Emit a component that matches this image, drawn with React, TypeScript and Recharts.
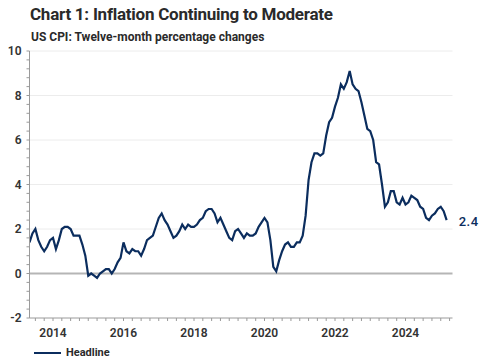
import React from "react";
import { LineChart, Line, XAxis, YAxis, ReferenceLine } from "recharts";

const startYear = 2013;
const startMonth = 5; // May 2013
const cpi2013 = [1.4, 1.8, 2.0, 1.5, 1.2, 1.0, 1.2, 1.5];
const cpi2014 = [1.6, 1.1, 1.5, 2.0, 2.1, 2.1, 2.0, 1.7, 1.7, 1.7, 1.3, 0.8];
const cpi2015 = [-0.1, 0.0, -0.1, -0.2, 0.0, 0.1, 0.2, 0.2, 0.0, 0.2, 0.5, 0.7];
const cpi2016 = [1.4, 1.0, 0.9, 1.1, 1.0, 1.0, 0.8, 1.1, 1.5, 1.6, 1.7, 2.1];
const cpi2017 = [2.5, 2.7, 2.4, 2.2, 1.9, 1.6, 1.7, 1.9, 2.2, 2.0, 2.2, 2.1];
const cpi2018 = [2.1, 2.2, 2.4, 2.5, 2.8, 2.9, 2.9, 2.7, 2.3, 2.5, 2.2, 1.9];
const cpi2019 = [1.6, 1.5, 1.9, 2.0, 1.8, 1.6, 1.8, 1.7, 1.7, 1.8, 2.1, 2.3];
const cpi2020 = [2.5, 2.3, 1.5, 0.3, 0.1, 0.6, 1.0, 1.3, 1.4, 1.2, 1.2, 1.4];
const cpi2021 = [1.4, 1.7, 2.6, 4.2, 5.0, 5.4, 5.4, 5.3, 5.4, 6.2, 6.8, 7.0];
const cpi2022 = [7.5, 7.9, 8.5, 8.3, 8.6, 9.1, 8.5, 8.3, 8.2, 7.7, 7.1, 6.5];
const cpi2023 = [6.4, 6.0, 5.0, 4.9, 4.0, 3.0, 3.2, 3.7, 3.7, 3.2, 3.1, 3.4];
const cpi2024 = [3.1, 3.2, 3.5, 3.4, 3.3, 3.0, 2.9, 2.5, 2.4, 2.6, 2.7, 2.9];
const cpi2025 = [3.0, 2.8, 2.4];

const headline = [
  ...cpi2013, ...cpi2014, ...cpi2015, ...cpi2016, ...cpi2017, ...cpi2018,
  ...cpi2019, ...cpi2020, ...cpi2021, ...cpi2022, ...cpi2023, ...cpi2024, ...cpi2025,
];

const yLabelValues = [-2, 0, 2, 4, 6, 8, 10];
const yMinorTicks = Array.from({ length: 31 }, (_, i) => -2 + i * 0.4);
const xLabelYears = [2014, 2016, 2018, 2020, 2022, 2024];
const xMinorTicks = Array.from({ length: 48 }, (_, i) => 2013.5 + i * 0.25);
const gridValues = [2, 4, 6, 8, 10];

const data = headline.map((v, i) => ({
  t: startYear + (startMonth - 1 + i) / 12,
  headline: v,
}));

const NAVY = "#0b2d5e";
const FONT = "Roboto, 'Noto Sans', sans-serif";

const near = (a: number, b: number) => Math.abs(a - b) < 1e-6;

const EndLabel = (props: any) => {
  const { x, y, index } = props;
  if (index !== data.length - 1) return null;
  return (
    <text x={x + 12} y={y + 2} fill={NAVY} fontSize={13} fontFamily={FONT} fontWeight={500} dominantBaseline="middle" letterSpacing={0.5}>
      {data[index].headline.toFixed(1)}
    </text>
  );
};

export default function App() {
  return (
    <div style={{ position: "absolute", left: 0, top: 0, width: 485, height: 361, background: "#fff", fontFamily: FONT }}>
      <div style={{ position: "absolute", left: 30, top: 4, fontSize: 17, fontWeight: 700, color: "#2a2a2a", whiteSpace: "nowrap", letterSpacing: -0.25 }}>
        Chart 1: Inflation Continuing to Moderate
      </div>
      <div style={{ position: "absolute", left: 31, top: 30, fontSize: 12, fontWeight: 700, color: "#2a2a2a", whiteSpace: "nowrap" }}>
        US CPI: Twelve-month percentage changes
      </div>
      <LineChart
        width={485}
        height={361}
        data={data}
        margin={{ top: 51, right: 32.5, bottom: 13, left: 0 }}
        style={{ position: "absolute", left: 0, top: 0 }}
      >
        {gridValues.map((g) => (
          <ReferenceLine key={g} y={g} stroke="#ececec" strokeWidth={1} />
        ))}
        <ReferenceLine y={0} stroke="#b5b5b5" strokeWidth={2} />
        <XAxis
          dataKey="t"
          type="number"
          domain={[2013 + 4 / 12, 2025 + 4 / 12]}
          ticks={xMinorTicks}
          interval={0}
          height={30}
          tickFormatter={(v: number) => {
            const r = Math.round(v);
            return near(v, r) && xLabelYears.includes(r) ? String(r) : "";
          }}
          stroke="#9a9a9a"
          tickSize={3}
          tickMargin={7}
          tick={{ fill: "#333", fontSize: 12, fontWeight: 600, fontFamily: FONT }}
          allowDataOverflow
        />
        <YAxis
          type="number"
          domain={[-2, 10]}
          ticks={yMinorTicks}
          interval={0}
          width={29.5}
          tickFormatter={(v: number) => {
            const r = Math.round(v);
            return near(v, r) && yLabelValues.includes(r) ? String(r) : "";
          }}
          stroke="#9a9a9a"
          tickSize={3}
          tickMargin={5}
          tick={{ fill: "#333", fontSize: 12, fontWeight: 600, fontFamily: FONT }}
          allowDataOverflow
        />
        <Line
          dataKey="headline"
          stroke={NAVY}
          strokeWidth={2.2}
          dot={false}
          isAnimationActive={false}
          label={<EndLabel />}
        />
      </LineChart>
      <div style={{ position: "absolute", left: 34, top: 346, display: "flex", alignItems: "center" }}>
        <div style={{ width: 27, height: 2, background: NAVY }} />
        <span style={{ marginLeft: 5, fontSize: 11, fontWeight: 700, color: "#2a2a2a" }}>Headline</span>
      </div>
    </div>
  );
}
